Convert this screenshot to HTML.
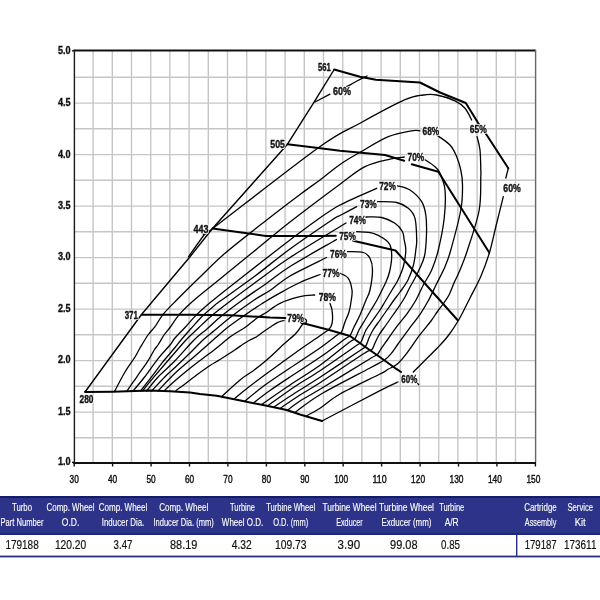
<!DOCTYPE html>
<html><head><meta charset="utf-8"><style>
html,body{margin:0;padding:0;background:#fff;}
svg{display:block;}
.g{stroke:#c6c6c6;stroke-width:1.4;}
.xl{font-family:"Liberation Sans",sans-serif;font-size:11.5px;fill:#111;stroke:#111;stroke-width:0.45;}
.yl{font-family:"Liberation Sans",sans-serif;font-size:11.3px;font-weight:bold;fill:#111;stroke:#111;stroke-width:0.35;}
.th{font-family:"Liberation Sans",sans-serif;font-size:11.8px;fill:#fff;stroke:#fff;stroke-width:0.15;}
.td{font-family:"Liberation Sans",sans-serif;font-size:12.6px;fill:#111;stroke:#111;stroke-width:0.2;}
.c{fill:none;stroke:#000;stroke-width:1.3;stroke-linejoin:round;stroke-linecap:round;}
.s{fill:none;stroke:#000;stroke-width:2;stroke-linejoin:round;stroke-linecap:round;}
.lb{font-family:"Liberation Sans",sans-serif;font-size:11.3px;font-weight:bold;fill:#111;stroke:#111;stroke-width:0.4;}
.lbh{stroke:#fff;stroke-width:2.2;fill:#fff;}
.m{fill:none;stroke:#000;stroke-width:1.4;stroke-linejoin:round;}
</style></head><body>
<svg width="600" height="600" viewBox="0 0 600 600">
<rect width="600" height="600" fill="#fff"/>
<line x1="93.1" y1="50.5" x2="93.1" y2="463" class="g"/>
<line x1="112.3" y1="50.5" x2="112.3" y2="463" class="g"/>
<line x1="131.5" y1="50.5" x2="131.5" y2="463" class="g"/>
<line x1="150.7" y1="50.5" x2="150.7" y2="463" class="g"/>
<line x1="169.9" y1="50.5" x2="169.9" y2="463" class="g"/>
<line x1="189.1" y1="50.5" x2="189.1" y2="463" class="g"/>
<line x1="208.3" y1="50.5" x2="208.3" y2="463" class="g"/>
<line x1="227.5" y1="50.5" x2="227.5" y2="463" class="g"/>
<line x1="246.7" y1="50.5" x2="246.7" y2="463" class="g"/>
<line x1="265.9" y1="50.5" x2="265.9" y2="463" class="g"/>
<line x1="285.1" y1="50.5" x2="285.1" y2="463" class="g"/>
<line x1="304.3" y1="50.5" x2="304.3" y2="463" class="g"/>
<line x1="323.5" y1="50.5" x2="323.5" y2="463" class="g"/>
<line x1="342.7" y1="50.5" x2="342.7" y2="463" class="g"/>
<line x1="361.9" y1="50.5" x2="361.9" y2="463" class="g"/>
<line x1="381.1" y1="50.5" x2="381.1" y2="463" class="g"/>
<line x1="400.3" y1="50.5" x2="400.3" y2="463" class="g"/>
<line x1="419.5" y1="50.5" x2="419.5" y2="463" class="g"/>
<line x1="438.7" y1="50.5" x2="438.7" y2="463" class="g"/>
<line x1="457.9" y1="50.5" x2="457.9" y2="463" class="g"/>
<line x1="477.1" y1="50.5" x2="477.1" y2="463" class="g"/>
<line x1="496.3" y1="50.5" x2="496.3" y2="463" class="g"/>
<line x1="515.5" y1="50.5" x2="515.5" y2="463" class="g"/>
<line x1="74.5" y1="437.8" x2="535.5" y2="437.8" class="g"/>
<line x1="74.5" y1="412.1" x2="535.5" y2="412.1" class="g"/>
<line x1="74.5" y1="386.3" x2="535.5" y2="386.3" class="g"/>
<line x1="74.5" y1="360.6" x2="535.5" y2="360.6" class="g"/>
<line x1="74.5" y1="334.8" x2="535.5" y2="334.8" class="g"/>
<line x1="74.5" y1="309.1" x2="535.5" y2="309.1" class="g"/>
<line x1="74.5" y1="283.3" x2="535.5" y2="283.3" class="g"/>
<line x1="74.5" y1="257.6" x2="535.5" y2="257.6" class="g"/>
<line x1="74.5" y1="231.8" x2="535.5" y2="231.8" class="g"/>
<line x1="74.5" y1="206.1" x2="535.5" y2="206.1" class="g"/>
<line x1="74.5" y1="180.3" x2="535.5" y2="180.3" class="g"/>
<line x1="74.5" y1="154.6" x2="535.5" y2="154.6" class="g"/>
<line x1="74.5" y1="128.8" x2="535.5" y2="128.8" class="g"/>
<line x1="74.5" y1="103.1" x2="535.5" y2="103.1" class="g"/>
<line x1="74.5" y1="77.3" x2="535.5" y2="77.3" class="g"/>
<line x1="74.5" y1="50.6" x2="535.8" y2="50.6" stroke="#111" stroke-width="2"/>
<line x1="535.6" y1="50" x2="535.6" y2="463" stroke="#666" stroke-width="1.4"/>
<line x1="74.4" y1="49.6" x2="74.4" y2="464" stroke="#1a1a1a" stroke-width="1.4"/>
<line x1="73.5" y1="463" x2="536" y2="463" stroke="#111" stroke-width="2.2"/>
<line x1="74.2" y1="463" x2="74.2" y2="466.5" stroke="#111" stroke-width="1.4"/>
<text x="69.6" y="482.5" class="xl" textLength="9.2" lengthAdjust="spacingAndGlyphs">30</text>
<line x1="112.6" y1="463" x2="112.6" y2="466.5" stroke="#111" stroke-width="1.4"/>
<text x="108.0" y="482.5" class="xl" textLength="9.2" lengthAdjust="spacingAndGlyphs">40</text>
<line x1="151.1" y1="463" x2="151.1" y2="466.5" stroke="#111" stroke-width="1.4"/>
<text x="146.5" y="482.5" class="xl" textLength="9.2" lengthAdjust="spacingAndGlyphs">50</text>
<line x1="189.5" y1="463" x2="189.5" y2="466.5" stroke="#111" stroke-width="1.4"/>
<text x="184.9" y="482.5" class="xl" textLength="9.2" lengthAdjust="spacingAndGlyphs">60</text>
<line x1="227.9" y1="463" x2="227.9" y2="466.5" stroke="#111" stroke-width="1.4"/>
<text x="223.3" y="482.5" class="xl" textLength="9.2" lengthAdjust="spacingAndGlyphs">70</text>
<line x1="266.4" y1="463" x2="266.4" y2="466.5" stroke="#111" stroke-width="1.4"/>
<text x="261.8" y="482.5" class="xl" textLength="9.2" lengthAdjust="spacingAndGlyphs">80</text>
<line x1="304.8" y1="463" x2="304.8" y2="466.5" stroke="#111" stroke-width="1.4"/>
<text x="300.2" y="482.5" class="xl" textLength="9.2" lengthAdjust="spacingAndGlyphs">90</text>
<line x1="343.2" y1="463" x2="343.2" y2="466.5" stroke="#111" stroke-width="1.4"/>
<text x="334.2" y="482.5" class="xl" textLength="14.0" lengthAdjust="spacingAndGlyphs">100</text>
<line x1="381.6" y1="463" x2="381.6" y2="466.5" stroke="#111" stroke-width="1.4"/>
<text x="372.6" y="482.5" class="xl" textLength="14.0" lengthAdjust="spacingAndGlyphs">110</text>
<line x1="420.1" y1="463" x2="420.1" y2="466.5" stroke="#111" stroke-width="1.4"/>
<text x="411.1" y="482.5" class="xl" textLength="14.0" lengthAdjust="spacingAndGlyphs">120</text>
<line x1="458.5" y1="463" x2="458.5" y2="466.5" stroke="#111" stroke-width="1.4"/>
<text x="449.5" y="482.5" class="xl" textLength="14.0" lengthAdjust="spacingAndGlyphs">130</text>
<line x1="496.9" y1="463" x2="496.9" y2="466.5" stroke="#111" stroke-width="1.4"/>
<text x="487.9" y="482.5" class="xl" textLength="14.0" lengthAdjust="spacingAndGlyphs">140</text>
<line x1="535.4" y1="463" x2="535.4" y2="466.5" stroke="#111" stroke-width="1.4"/>
<text x="526.4" y="482.5" class="xl" textLength="14.0" lengthAdjust="spacingAndGlyphs">150</text>
<line x1="72" y1="462.4" x2="74.5" y2="462.4" stroke="#111" stroke-width="1.4"/>
<text x="58" y="465.3" class="yl" textLength="12.7" lengthAdjust="spacingAndGlyphs">1.0</text>
<text x="58" y="414.9" class="yl" textLength="12.7" lengthAdjust="spacingAndGlyphs">1.5</text>
<text x="58" y="363.4" class="yl" textLength="12.7" lengthAdjust="spacingAndGlyphs">2.0</text>
<text x="58" y="311.9" class="yl" textLength="12.7" lengthAdjust="spacingAndGlyphs">2.5</text>
<text x="58" y="260.4" class="yl" textLength="12.7" lengthAdjust="spacingAndGlyphs">3.0</text>
<text x="58" y="209.0" class="yl" textLength="12.7" lengthAdjust="spacingAndGlyphs">3.5</text>
<text x="58" y="157.5" class="yl" textLength="12.7" lengthAdjust="spacingAndGlyphs">4.0</text>
<text x="58" y="106.0" class="yl" textLength="12.7" lengthAdjust="spacingAndGlyphs">4.5</text>
<line x1="72" y1="50.8" x2="74.5" y2="50.8" stroke="#111" stroke-width="1.4"/>
<text x="58" y="53.7" class="yl" textLength="12.7" lengthAdjust="spacingAndGlyphs">5.0</text>
<path class="m" d="M85.0,392.0 L141.5,314.5 L190.0,256.7 L212.5,228.5 L287.5,144.2 L313.3,103.3 L334.2,69.5"/>
<path class="s" d="M85.0,392.0 L112.5,391.7 L150.0,390.5 L170.0,391.2 L190.0,392.5 L200.0,394.0 L216.7,395.8 L241.7,400.8 L266.7,405.8 L286.7,410.0 L300.0,414.5 L322.0,421.0"/>
<path class="s" d="M142.0,314.7 L190.0,314.7 L230.0,315.3 L270.0,317.5 L285.3,318.0"/>
<path class="s" d="M301.3,322.7 L329.3,330.0 L350.0,336.0 L364.0,346.0 L377.3,355.3 L396.0,368.7 L401.0,372.0"/>
<path class="s" d="M212.5,228.5 L266.0,236.0 L320.0,236.0 L335.8,235.8"/>
<path class="s" d="M353.3,240.8 L395.5,250.5 L457.5,320.0"/>
<path class="s" d="M287.5,144.2 L318.3,148.0 L340.0,150.8 L385.0,155.0 L404.2,160.8"/>
<path class="s" d="M411.7,164.2 L438.3,171.7 L489.2,252.5"/>
<path class="s" d="M334.2,69.5 L360.0,76.7 L375.8,79.7 L420.0,82.5 L440.0,92.5 L465.8,103.0 L478.3,123.3 L486.7,135.0 L508.3,168.3"/>
<path class="c" d="M176.0,390.5 C177.5,389.4 181.3,386.8 185.0,384.0 C188.7,381.2 193.8,377.1 198.0,374.0 C202.2,370.9 206.3,367.9 210.0,365.5 C213.7,363.1 215.9,362.1 220.0,359.5 C224.1,356.9 230.8,352.6 234.7,350.0 C238.6,347.4 240.8,345.7 243.3,344.0 C245.9,342.3 247.8,341.2 250.0,340.0 C252.2,338.8 254.8,337.8 256.7,336.7 C258.6,335.6 259.1,334.9 261.3,333.3 C263.5,331.7 267.3,329.1 270.0,327.3 C272.7,325.5 275.0,323.7 277.3,322.6 C279.6,321.5 282.9,320.9 284.0,320.5"/>
<path class="c" d="M303.0,323.5 C301.8,325.1 299.2,329.9 296.0,333.3 C292.8,336.7 288.9,339.6 284.0,344.0 C279.1,348.4 271.8,355.6 266.7,360.0 C261.6,364.4 257.8,367.4 253.3,370.7 C248.9,374.0 245.1,375.8 240.0,380.0 C234.9,384.2 225.4,393.2 222.5,395.8"/>
<path class="c" d="M164.5,390.5 C166.2,388.9 171.4,384.0 175.0,380.8 C178.6,377.6 182.2,374.6 186.0,371.5 C189.8,368.4 193.2,365.7 198.0,362.0 C202.8,358.3 209.4,353.6 215.0,349.2 C220.6,344.8 226.7,339.4 231.7,335.8 C236.7,332.2 240.8,330.4 245.0,327.5 C249.2,324.6 253.4,320.7 256.7,318.3 C260.0,315.9 261.1,315.8 265.0,313.3 C268.9,310.8 274.2,306.1 280.0,303.3 C285.8,300.5 294.2,298.1 300.0,296.7 C305.8,295.3 312.2,295.3 314.7,295.0"/>
<path class="c" d="M330.0,303.3 C330.3,304.4 331.6,307.2 332.0,310.0 C332.4,312.8 332.7,317.2 332.5,320.0 C332.3,322.8 331.8,324.8 331.0,326.5 C330.2,328.2 329.8,328.4 328.0,330.0 C326.2,331.6 324.7,332.6 320.0,335.8 C315.3,339.1 306.7,344.8 300.0,349.5 C293.3,354.2 286.7,359.2 280.0,364.0 C273.3,368.8 265.8,374.2 260.0,378.5 C254.2,382.8 249.2,386.7 245.0,390.0 C240.8,393.3 236.7,396.9 235.0,398.3"/>
<path class="c" d="M158.0,391.0 C160.8,388.1 168.8,379.1 175.0,373.3 C181.2,367.5 188.3,361.8 195.0,356.0 C201.7,350.2 209.6,343.1 215.0,338.3 C220.4,333.6 222.9,331.1 227.5,327.5 C232.1,323.9 236.2,321.0 242.5,316.7 C248.8,312.4 257.9,306.1 265.0,301.7 C272.1,297.2 279.5,293.2 285.3,290.0 C291.1,286.8 294.2,285.1 300.0,282.5 C305.8,279.9 316.7,275.8 320.0,274.5"/>
<path class="c" d="M340.0,273.3 C341.4,274.1 346.3,275.5 348.3,278.3 C350.3,281.1 351.5,286.4 352.0,290.0 C352.5,293.6 351.8,296.3 351.3,300.0 C350.8,303.7 350.1,308.3 349.0,312.0 C347.9,315.7 346.2,318.7 345.0,322.0 C343.8,325.3 342.7,329.9 341.5,332.0 C340.3,334.1 341.6,331.8 338.0,334.5 C334.4,337.2 328.0,342.4 320.0,348.0 C312.0,353.6 299.2,361.8 290.0,368.0 C280.8,374.2 272.5,379.5 265.0,385.0 C257.5,390.5 248.3,398.3 245.0,401.0"/>
<path class="c" d="M151.5,391.0 C153.8,388.6 161.1,380.6 165.0,376.7 C168.9,372.8 171.0,371.3 175.0,367.5 C179.0,363.7 184.3,358.6 189.0,354.0 C193.7,349.4 198.7,344.0 203.0,340.0 C207.3,336.0 210.2,334.0 215.0,330.0 C219.8,326.0 225.2,321.2 231.7,316.2 C238.2,311.2 247.7,304.4 254.2,300.0 C260.7,295.6 264.7,294.0 270.7,290.0 C276.7,286.0 280.7,281.4 290.0,276.0 C299.3,270.6 320.4,260.6 326.5,257.5"/>
<path class="c" d="M347.5,251.7 C350.1,251.8 359.6,251.4 363.3,252.5 C367.1,253.6 368.5,255.4 370.0,258.3 C371.5,261.2 372.5,264.7 372.5,270.0 C372.5,275.3 371.1,285.0 370.0,290.0 C368.9,295.0 367.7,295.8 366.0,300.0 C364.3,304.2 362.0,310.5 360.0,315.0 C358.0,319.5 355.7,323.6 354.0,327.0 C352.3,330.4 351.5,333.5 350.0,335.5 C348.5,337.5 350.0,335.4 345.0,339.0 C340.0,342.6 329.2,351.0 320.0,357.3 C310.8,363.6 298.3,371.5 290.0,377.0 C281.7,382.5 276.1,386.2 270.0,390.5 C263.9,394.8 256.1,400.9 253.3,403.0"/>
<path class="c" d="M146.5,391.0 C148.5,388.6 153.6,381.7 158.3,376.7 C163.1,371.7 169.1,366.9 175.0,360.8 C180.9,354.7 188.7,345.3 194.0,340.0 C199.3,334.7 202.4,333.0 207.0,329.0 C211.6,325.0 215.8,320.6 221.7,315.8 C227.6,311.0 234.9,305.5 242.5,300.0 C250.1,294.5 259.1,288.6 267.0,283.0 C274.9,277.4 278.4,273.8 290.0,266.5 C301.6,259.2 328.8,244.0 336.5,239.5"/>
<path class="c" d="M356.7,231.7 C359.5,232.0 368.9,232.2 373.3,233.3 C377.7,234.4 380.5,236.4 383.3,238.3 C386.1,240.2 388.6,241.9 390.0,245.0 C391.4,248.1 391.8,252.2 391.7,256.7 C391.6,261.2 390.5,267.6 389.5,272.0 C388.5,276.4 386.8,280.0 385.5,283.0 C384.2,286.0 383.4,287.2 382.0,290.0 C380.6,292.8 378.8,296.7 377.0,300.0 C375.2,303.3 373.0,306.7 371.0,310.0 C369.0,313.3 367.0,316.7 365.0,320.0 C363.0,323.3 360.7,326.9 359.0,330.0 C357.3,333.1 356.7,336.4 355.0,338.5 C353.3,340.6 354.8,338.0 349.0,342.5 C343.2,347.0 329.8,358.2 320.0,365.3 C310.2,372.4 299.7,378.5 290.0,385.0 C280.3,391.5 266.4,401.2 261.7,404.5"/>
<path class="c" d="M142.5,391.0 C144.4,388.6 148.8,383.1 154.2,376.7 C159.6,370.3 169.7,358.6 175.0,352.5 C180.3,346.4 182.0,344.2 186.0,340.0 C190.0,335.8 194.6,331.7 199.0,327.5 C203.4,323.3 207.1,319.6 212.5,315.0 C217.9,310.4 223.8,306.0 231.7,300.0 C239.6,294.0 250.3,286.1 260.0,279.0 C269.7,271.9 275.7,266.8 290.0,257.5 C304.3,248.2 336.7,228.8 346.0,223.0"/>
<path class="c" d="M365.8,217.0 C368.4,217.1 376.8,216.4 381.7,217.5 C386.6,218.6 391.5,220.9 395.0,223.3 C398.5,225.7 401.0,228.9 402.5,231.7 C404.0,234.5 403.6,236.9 404.2,240.0 C404.8,243.1 405.9,245.7 405.8,250.0 C405.7,254.3 404.8,261.0 403.5,266.0 C402.2,271.0 399.9,276.0 398.0,280.0 C396.1,284.0 394.0,286.7 392.0,290.0 C390.0,293.3 388.0,296.7 386.0,300.0 C384.0,303.3 382.2,306.7 380.0,310.0 C377.8,313.3 375.3,316.7 373.0,320.0 C370.7,323.3 368.0,326.3 366.0,330.0 C364.0,333.7 362.8,339.2 361.0,342.0 C359.2,344.8 361.8,341.7 355.0,346.5 C348.2,351.3 330.0,364.0 320.0,370.7 C310.0,377.4 303.7,380.7 295.0,386.5 C286.3,392.3 272.5,402.4 268.0,405.6"/>
<path class="c" d="M140.5,391.0 C142.4,388.6 148.2,381.3 151.7,376.7 C155.2,372.1 157.8,368.2 161.7,363.3 C165.6,358.4 171.8,351.4 175.0,347.5 C178.2,343.6 178.3,343.2 181.0,340.0 C183.7,336.8 187.3,332.6 191.0,328.5 C194.7,324.4 199.0,319.4 203.0,315.5 C207.0,311.6 211.9,307.6 215.0,305.0 C218.1,302.4 215.0,304.8 221.7,300.0 C228.4,295.2 243.6,284.5 255.0,276.0 C266.4,267.5 277.2,258.3 290.0,249.0 C302.8,239.7 323.7,225.6 332.0,220.0 C340.3,214.4 335.9,217.7 340.0,215.5 C344.1,213.3 353.9,208.2 356.7,206.7"/>
<path class="c" d="M377.5,201.7 C380.7,201.8 391.6,201.4 396.7,202.5 C401.8,203.6 405.2,205.7 408.3,208.3 C411.4,210.9 413.6,213.0 415.0,218.3 C416.4,223.6 416.6,234.7 416.7,240.0 C416.8,245.3 416.3,245.8 415.8,250.0 C415.3,254.2 414.8,260.0 413.5,265.0 C412.2,270.0 410.2,275.5 408.0,280.0 C405.8,284.5 402.3,288.7 400.0,292.0 C397.7,295.3 396.2,297.0 394.0,300.0 C391.8,303.0 389.3,306.7 387.0,310.0 C384.7,313.3 382.3,316.7 380.0,320.0 C377.7,323.3 374.8,327.0 373.0,330.0 C371.2,333.0 370.2,335.2 369.0,338.0 C367.8,340.8 367.0,344.4 365.5,346.5 C364.0,348.6 367.6,345.4 360.0,350.5 C352.4,355.6 330.8,370.2 320.0,377.3 C309.2,384.4 302.7,388.1 295.0,393.0 C287.3,397.9 277.5,404.7 274.0,407.0"/>
<path class="c" d="M133.0,391.0 C134.9,388.8 140.0,382.9 144.2,377.5 C148.4,372.1 154.0,363.7 158.3,358.3 C162.6,352.9 167.2,348.4 170.0,345.0 C172.8,341.6 172.5,340.9 175.0,338.0 C177.5,335.1 181.4,331.4 185.0,327.5 C188.6,323.6 192.0,319.2 196.7,314.6 C201.4,310.0 204.4,307.3 213.3,300.0 C222.2,292.7 237.2,281.0 250.0,271.0 C262.8,261.0 278.8,248.5 290.0,240.0 C301.2,231.5 308.7,225.8 317.0,220.0 C325.3,214.2 330.1,210.3 340.0,205.0 C349.9,199.7 370.6,191.1 376.7,188.3"/>
<path class="c" d="M397.5,185.8 C399.6,186.5 406.0,187.3 410.0,190.0 C414.0,192.7 419.1,197.5 421.7,201.7 C424.3,205.9 425.0,209.6 425.8,215.0 C426.6,220.4 426.7,227.2 426.5,234.0 C426.3,240.8 425.8,250.0 424.5,256.0 C423.2,262.0 420.8,266.0 419.0,270.0 C417.2,274.0 415.5,277.2 414.0,280.0 C412.5,282.8 411.5,284.2 410.0,287.0 C408.5,289.8 406.7,294.0 405.0,297.0 C403.3,300.0 402.0,302.0 400.0,305.0 C398.0,308.0 395.3,311.7 393.0,315.0 C390.7,318.3 388.3,321.7 386.0,325.0 C383.7,328.3 380.8,332.0 379.0,335.0 C377.2,338.0 376.2,340.5 375.0,343.0 C373.8,345.5 373.3,348.2 371.5,350.0 C369.7,351.8 372.6,348.1 364.0,353.5 C355.4,358.9 330.7,375.8 320.0,382.7 C309.3,389.6 306.7,390.7 300.0,395.0 C293.3,399.3 283.3,406.2 280.0,408.5"/>
<path class="c" d="M127.0,391.0 C128.8,388.5 134.1,380.7 137.5,375.8 C140.9,370.9 144.7,366.0 147.5,361.7 C150.3,357.4 152.4,352.9 154.2,350.0 C156.0,347.1 156.7,347.0 158.3,344.5 C159.9,342.0 162.1,337.8 164.0,335.0 C165.9,332.2 167.5,330.9 170.0,327.5 C172.5,324.1 175.2,319.2 179.2,314.6 C183.2,310.0 187.4,305.9 194.2,300.0 C201.0,294.1 210.7,286.6 220.0,279.0 C229.3,271.4 238.3,264.1 250.0,254.6 C261.7,245.1 275.0,233.7 290.0,222.0 C305.0,210.3 327.5,193.4 340.0,184.2 C352.5,175.0 356.7,170.9 365.0,166.7 C373.3,162.5 383.5,160.8 390.0,159.2 C396.5,157.6 401.8,157.4 404.2,157.0"/>
<path class="c" d="M424.2,159.2 C426.0,160.4 432.4,164.3 435.0,166.7 C437.6,169.0 438.3,169.4 440.0,173.3 C441.7,177.2 444.3,182.5 445.0,190.0 C445.7,197.5 445.3,208.3 444.2,218.3 C443.1,228.3 440.4,241.4 438.3,250.0 C436.2,258.6 434.2,264.2 431.7,270.0 C429.2,275.8 425.9,280.0 423.3,285.0 C420.7,290.0 418.7,295.3 416.0,300.0 C413.3,304.7 410.5,308.9 407.3,313.3 C404.1,317.8 400.0,322.2 396.7,326.7 C393.4,331.1 390.0,336.2 387.3,340.0 C384.6,343.8 382.4,346.8 380.7,349.3 C379.0,351.8 378.8,353.4 377.0,355.0 C375.2,356.6 379.5,353.0 370.0,358.7 C360.5,364.4 331.7,382.2 320.0,389.3 C308.3,396.4 305.5,397.5 300.0,401.0 C294.5,404.5 289.2,408.9 287.0,410.5"/>
<path class="c" d="M114.5,391.5 C116.2,388.2 121.6,377.8 125.0,372.0 C128.4,366.2 132.5,361.0 135.0,357.0 C137.5,353.0 137.8,351.7 140.0,348.0 C142.2,344.3 145.5,338.6 148.0,335.0 C150.5,331.4 152.5,330.1 155.0,326.7 C157.5,323.3 159.3,319.1 162.9,314.6 C166.5,310.2 170.5,306.3 176.7,300.0 C182.9,293.7 191.9,284.8 200.0,277.0 C208.1,269.2 213.9,262.8 225.0,253.3 C236.1,243.8 254.2,229.8 266.7,220.0 C279.2,210.2 291.1,201.2 300.0,194.5 C308.9,187.8 313.3,185.0 320.0,180.0 C326.7,175.0 333.6,168.9 340.0,164.5 C346.4,160.1 350.2,157.9 358.3,153.3 C366.4,148.7 379.4,140.4 388.3,136.7 C397.2,132.9 406.4,131.8 411.7,130.8 C417.0,129.8 418.6,130.8 420.0,130.8"/>
<path class="c" d="M436.7,135.0 C438.9,136.7 446.7,141.4 450.0,145.0 C453.3,148.6 454.9,152.5 456.7,156.7 C458.5,160.9 459.8,165.3 460.8,170.0 C461.8,174.7 462.5,178.3 462.5,185.0 C462.5,191.7 462.8,199.2 460.8,210.0 C458.9,220.8 453.4,240.6 450.8,250.0 C448.2,259.4 447.5,260.9 445.0,266.7 C442.5,272.5 438.7,279.4 436.0,285.0 C433.3,290.6 431.2,295.3 428.7,300.0 C426.1,304.7 424.0,308.4 420.7,313.3 C417.4,318.2 412.5,324.2 408.7,329.3 C404.9,334.4 400.9,340.0 398.0,344.0 C395.1,348.0 393.6,350.6 391.3,353.3 C389.1,356.0 388.1,357.6 384.5,360.0 C380.9,362.4 380.8,362.2 370.0,368.0 C359.2,373.8 332.5,387.3 320.0,394.7 C307.5,402.1 299.2,409.5 295.0,412.5"/>
<path class="c" d="M188.5,256.8 C191.4,252.8 202.0,237.2 206.0,232.5 C210.0,227.8 193.8,242.8 212.5,228.7 C231.2,214.6 293.4,165.6 318.0,148.0 C342.6,130.4 345.5,131.3 360.0,123.3 C374.5,115.2 394.4,104.4 405.0,99.7 C415.6,95.0 418.0,95.8 423.3,95.0 C428.6,94.2 431.4,94.0 436.7,95.0 C442.0,96.0 450.3,98.6 455.0,100.8 C459.7,103.0 462.2,105.1 465.0,108.3 C467.8,111.5 470.6,118.0 471.7,120.0"/>
<path class="c" d="M477.0,136.7 C477.5,138.9 479.4,144.4 480.0,150.0 C480.6,155.6 480.7,165.6 480.8,170.0 C480.9,174.4 481.1,170.0 480.8,176.7 C480.5,183.4 481.4,197.8 479.2,210.0 C477.0,222.2 470.7,240.0 467.5,250.0 C464.3,260.0 462.2,264.5 460.0,270.0 C457.8,275.5 455.8,278.8 454.0,283.0 C452.2,287.2 450.8,291.6 449.0,295.0 C447.2,298.4 445.4,300.8 443.5,303.5 C441.6,306.2 439.6,308.6 437.5,311.5 C435.4,314.4 433.9,317.1 431.0,321.0 C428.1,324.9 424.1,329.3 420.0,334.7 C415.9,340.1 410.5,348.4 406.7,353.3 C402.9,358.2 400.4,361.3 397.3,364.0 C394.2,366.7 390.9,367.6 388.0,369.3 C385.1,371.0 388.0,369.9 380.0,374.0 C372.0,378.1 350.0,388.3 340.0,394.0 C330.0,399.7 325.5,404.6 320.0,408.2 C314.5,411.8 309.2,414.3 307.0,415.5"/>
<path class="c" d="M315.0,102.0 L330.0,94.2"/>
<path class="c" d="M346.7,86.7 C348.6,85.7 354.6,82.3 358.0,80.5 C361.4,78.7 365.5,76.8 367.0,76.0"/>
<path class="c" d="M508.3,168.3 L505.8,178.0"/>
<path class="c" d="M503.3,196.7 C502.1,201.6 498.3,216.7 496.0,226.0 C493.7,235.3 492.0,244.2 489.5,252.5 C487.0,260.8 484.2,268.4 481.0,276.0 C477.8,283.6 473.7,290.7 470.0,298.0 C466.3,305.3 462.4,313.7 458.7,320.0 C455.0,326.3 451.6,331.3 448.0,336.0 C444.4,340.7 441.1,344.0 437.3,348.0 C433.5,352.0 429.3,356.0 425.3,360.0 C421.3,364.0 415.3,370.0 413.3,372.0"/>
<path class="c" d="M398.0,382.0 C395.0,383.4 392.7,384.2 380.0,390.7 C367.3,397.2 331.7,415.9 322.0,421.0"/>
<ellipse cx="303.4" cy="320.8" rx="3.2" ry="2.5" transform="rotate(25 303.4 320.8)" class="c"/>
<path class="c" d="M415.3,380.7 L418.7,384.7"/>
<text x="287.3" y="321.9" class="lb lbh" textLength="16.7" lengthAdjust="spacingAndGlyphs">79%</text>
<text x="318.7" y="300.9" class="lb lbh" textLength="17.3" lengthAdjust="spacingAndGlyphs">78%</text>
<text x="322.5" y="276.9" class="lb lbh" textLength="17.2" lengthAdjust="spacingAndGlyphs">77%</text>
<text x="330" y="258.1" class="lb lbh" textLength="16.7" lengthAdjust="spacingAndGlyphs">76%</text>
<text x="339.2" y="240.1" class="lb lbh" textLength="16.6" lengthAdjust="spacingAndGlyphs">75%</text>
<text x="349.2" y="223.9" class="lb lbh" textLength="16.6" lengthAdjust="spacingAndGlyphs">74%</text>
<text x="360" y="208.1" class="lb lbh" textLength="16.7" lengthAdjust="spacingAndGlyphs">73%</text>
<text x="379.2" y="189.7" class="lb lbh" textLength="16.6" lengthAdjust="spacingAndGlyphs">72%</text>
<text x="407.5" y="160.6" class="lb lbh" textLength="16.7" lengthAdjust="spacingAndGlyphs">70%</text>
<text x="422.5" y="135.2" class="lb lbh" textLength="16.7" lengthAdjust="spacingAndGlyphs">68%</text>
<text x="469.7" y="132.6" class="lb lbh" textLength="17.0" lengthAdjust="spacingAndGlyphs">65%</text>
<text x="333" y="94.7" class="lb lbh" textLength="18.0" lengthAdjust="spacingAndGlyphs">60%</text>
<text x="503.3" y="192.2" class="lb lbh" textLength="17.5" lengthAdjust="spacingAndGlyphs">60%</text>
<text x="401.3" y="382.6" class="lb lbh" textLength="16.0" lengthAdjust="spacingAndGlyphs">60%</text>
<text x="318" y="70.6" class="lb lbh" textLength="12.8" lengthAdjust="spacingAndGlyphs">561</text>
<text x="270.3" y="148.1" class="lb lbh" textLength="14.7" lengthAdjust="spacingAndGlyphs">505</text>
<text x="193.5" y="232.7" class="lb lbh" textLength="15.0" lengthAdjust="spacingAndGlyphs">443</text>
<text x="124.7" y="318.6" class="lb lbh" textLength="13.3" lengthAdjust="spacingAndGlyphs">371</text>
<text x="79.5" y="403.4" class="lb lbh" textLength="14.0" lengthAdjust="spacingAndGlyphs">280</text>
<text x="287.3" y="321.9" class="lb" textLength="16.7" lengthAdjust="spacingAndGlyphs">79%</text>
<text x="318.7" y="300.9" class="lb" textLength="17.3" lengthAdjust="spacingAndGlyphs">78%</text>
<text x="322.5" y="276.9" class="lb" textLength="17.2" lengthAdjust="spacingAndGlyphs">77%</text>
<text x="330" y="258.1" class="lb" textLength="16.7" lengthAdjust="spacingAndGlyphs">76%</text>
<text x="339.2" y="240.1" class="lb" textLength="16.6" lengthAdjust="spacingAndGlyphs">75%</text>
<text x="349.2" y="223.9" class="lb" textLength="16.6" lengthAdjust="spacingAndGlyphs">74%</text>
<text x="360" y="208.1" class="lb" textLength="16.7" lengthAdjust="spacingAndGlyphs">73%</text>
<text x="379.2" y="189.7" class="lb" textLength="16.6" lengthAdjust="spacingAndGlyphs">72%</text>
<text x="407.5" y="160.6" class="lb" textLength="16.7" lengthAdjust="spacingAndGlyphs">70%</text>
<text x="422.5" y="135.2" class="lb" textLength="16.7" lengthAdjust="spacingAndGlyphs">68%</text>
<text x="469.7" y="132.6" class="lb" textLength="17.0" lengthAdjust="spacingAndGlyphs">65%</text>
<text x="333" y="94.7" class="lb" textLength="18.0" lengthAdjust="spacingAndGlyphs">60%</text>
<text x="503.3" y="192.2" class="lb" textLength="17.5" lengthAdjust="spacingAndGlyphs">60%</text>
<text x="401.3" y="382.6" class="lb" textLength="16.0" lengthAdjust="spacingAndGlyphs">60%</text>
<text x="318" y="70.6" class="lb" textLength="12.8" lengthAdjust="spacingAndGlyphs">561</text>
<text x="270.3" y="148.1" class="lb" textLength="14.7" lengthAdjust="spacingAndGlyphs">505</text>
<text x="193.5" y="232.7" class="lb" textLength="15.0" lengthAdjust="spacingAndGlyphs">443</text>
<text x="124.7" y="318.6" class="lb" textLength="13.3" lengthAdjust="spacingAndGlyphs">371</text>
<text x="79.5" y="403.4" class="lb" textLength="14.0" lengthAdjust="spacingAndGlyphs">280</text>
<rect x="0" y="496.5" width="600" height="38.3" fill="#2c3388"/>
<rect x="0" y="496" width="600" height="2" fill="#161c6c"/>
<rect x="0" y="533.3" width="600" height="1.6" fill="#1c2274"/>
<rect x="0" y="555.6" width="600" height="1.8" fill="#262e86"/>
<rect x="516" y="534.5" width="1.4" height="22" fill="#262e86"/>
<text x="12.0" y="511.3" class="th" textLength="20" lengthAdjust="spacingAndGlyphs">Turbo</text>
<text x="0.5" y="525.5" class="th" textLength="43" lengthAdjust="spacingAndGlyphs">Part Number</text>
<text x="46.5" y="511.3" class="th" textLength="48" lengthAdjust="spacingAndGlyphs">Comp. Wheel</text>
<text x="61.8" y="525.5" class="th" textLength="17.5" lengthAdjust="spacingAndGlyphs">O.D.</text>
<text x="98.8" y="511.3" class="th" textLength="48.5" lengthAdjust="spacingAndGlyphs">Comp. Wheel</text>
<text x="101.8" y="525.5" class="th" textLength="42.5" lengthAdjust="spacingAndGlyphs">Inducer Dia.</text>
<text x="159.2" y="511.3" class="th" textLength="49" lengthAdjust="spacingAndGlyphs">Comp. Wheel</text>
<text x="153.4" y="525.5" class="th" textLength="60.5" lengthAdjust="spacingAndGlyphs">Inducer Dia. (mm)</text>
<text x="230.0" y="511.3" class="th" textLength="25" lengthAdjust="spacingAndGlyphs">Turbine</text>
<text x="221.8" y="525.5" class="th" textLength="41.5" lengthAdjust="spacingAndGlyphs">Wheel O.D.</text>
<text x="266.2" y="511.3" class="th" textLength="49" lengthAdjust="spacingAndGlyphs">Turbine Wheel</text>
<text x="273.2" y="525.5" class="th" textLength="35" lengthAdjust="spacingAndGlyphs">O.D. (mm)</text>
<text x="322.5" y="511.3" class="th" textLength="54" lengthAdjust="spacingAndGlyphs">Turbine Wheel</text>
<text x="336.2" y="525.5" class="th" textLength="26.5" lengthAdjust="spacingAndGlyphs">Exducer</text>
<text x="379.0" y="511.3" class="th" textLength="55" lengthAdjust="spacingAndGlyphs">Turbine Wheel</text>
<text x="381.5" y="525.5" class="th" textLength="50" lengthAdjust="spacingAndGlyphs">Exducer (mm)</text>
<text x="439.2" y="511.3" class="th" textLength="25" lengthAdjust="spacingAndGlyphs">Turbine</text>
<text x="444.7" y="525.5" class="th" textLength="14" lengthAdjust="spacingAndGlyphs">A/R</text>
<text x="524.2" y="511.3" class="th" textLength="32.5" lengthAdjust="spacingAndGlyphs">Cartridge</text>
<text x="524.8" y="525.5" class="th" textLength="31.5" lengthAdjust="spacingAndGlyphs">Assembly</text>
<text x="567.5" y="511.3" class="th" textLength="25.5" lengthAdjust="spacingAndGlyphs">Service</text>
<text x="574.7" y="525.5" class="th" textLength="11" lengthAdjust="spacingAndGlyphs">Kit</text>
<text x="5.4" y="549.3" class="td" textLength="33.3" lengthAdjust="spacingAndGlyphs">179188</text>
<text x="54.9" y="549.3" class="td" textLength="31.3" lengthAdjust="spacingAndGlyphs">120.20</text>
<text x="113.6" y="549.3" class="td" textLength="18.8" lengthAdjust="spacingAndGlyphs">3.47</text>
<text x="170.0" y="549.3" class="td" textLength="27.3" lengthAdjust="spacingAndGlyphs">88.19</text>
<text x="231.7" y="549.3" class="td" textLength="20" lengthAdjust="spacingAndGlyphs">4.32</text>
<text x="274.9" y="549.3" class="td" textLength="31.7" lengthAdjust="spacingAndGlyphs">109.73</text>
<text x="337.6" y="549.3" class="td" textLength="22.5" lengthAdjust="spacingAndGlyphs">3.90</text>
<text x="390.1" y="549.3" class="td" textLength="27.5" lengthAdjust="spacingAndGlyphs">99.08</text>
<text x="441.0" y="549.3" class="td" textLength="19" lengthAdjust="spacingAndGlyphs">0.85</text>
<text x="524.7" y="549.3" class="td" textLength="32" lengthAdjust="spacingAndGlyphs">179187</text>
<text x="564.1" y="549.3" class="td" textLength="32.3" lengthAdjust="spacingAndGlyphs">173611</text>
</svg>
</body></html>
